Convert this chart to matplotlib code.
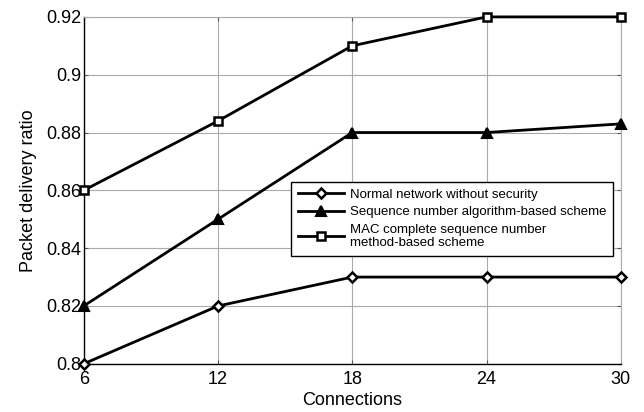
import numpy as np
import matplotlib.pyplot as plt

plt.rcParams['font.family'] = ['Liberation Sans', 'DejaVu Sans']

connections = [6, 12, 18, 24, 30]
normal = [0.80, 0.82, 0.83, 0.83, 0.83]
seq_alg = [0.82, 0.85, 0.88, 0.88, 0.883]
mac_seq = [0.86, 0.884, 0.91, 0.92, 0.92]

labels = ["Normal network without security",
          "Sequence number algorithm-based scheme",
          "MAC complete sequence number\nmethod-based scheme"]

fig = plt.figure(figsize=(6.44, 4.12), dpi=100)
ax = fig.add_axes([0.130, 0.117, 0.834, 0.842])

#three schemes, black lines with different markers
ax.plot(connections, normal, '-', color='black', lw=2.0, marker='D', ms=5,
        mfc='white', mec='black', mew=1.8, label=labels[0], clip_on=False, zorder=5)
ax.plot(connections, seq_alg, '-', color='black', lw=2.0, marker='^', ms=7,
        mfc='black', mec='black', mew=1.5, label=labels[1], clip_on=False, zorder=5)
ax.plot(connections, mac_seq, '-', color='black', lw=2.0, marker='s', ms=5.5,
        mfc='white', mec='black', mew=1.8, label=labels[2], clip_on=False, zorder=5)

ax.set_xlim(6, 30)
ax.set_ylim(0.8, 0.92)
ax.set_xticks(connections)
ax.set_yticks(np.arange(0.80, 0.921, 0.02))
ax.set_yticklabels(['0.8', '0.82', '0.84', '0.86', '0.88', '0.9', '0.92'])
ax.tick_params(direction='in', length=3, labelsize=13, right=True, top=True,
               color='#555555')
ax.tick_params(axis='x', pad=5)
ax.tick_params(axis='y', pad=2)
ax.grid(True, color='#aaaaaa', lw=0.8, ls='-')
ax.set_axisbelow(True)

for side in ['top', 'right']:
    ax.spines[side].set_color('#aaaaaa')
    ax.spines[side].set_linewidth(0.8)
for side in ['left', 'bottom']:
    ax.spines[side].set_color('black')
    ax.spines[side].set_linewidth(1.0)

ax.set_xlabel('Connections', fontsize=13, labelpad=3)
ax.set_ylabel('Packet delivery ratio', fontsize=13, labelpad=6)

leg = ax.legend(loc='upper left', bbox_to_anchor=(291/644, 1 - 182/412),
                bbox_transform=fig.transFigure, borderaxespad=0, fontsize=9.5,
                handlelength=3.5, fancybox=False, framealpha=1, edgecolor='black',
                borderpad=0.5, labelspacing=0.4, handletextpad=0.5)
leg.get_frame().set_linewidth(1.0)

fig.savefig('out.png', dpi=100)
